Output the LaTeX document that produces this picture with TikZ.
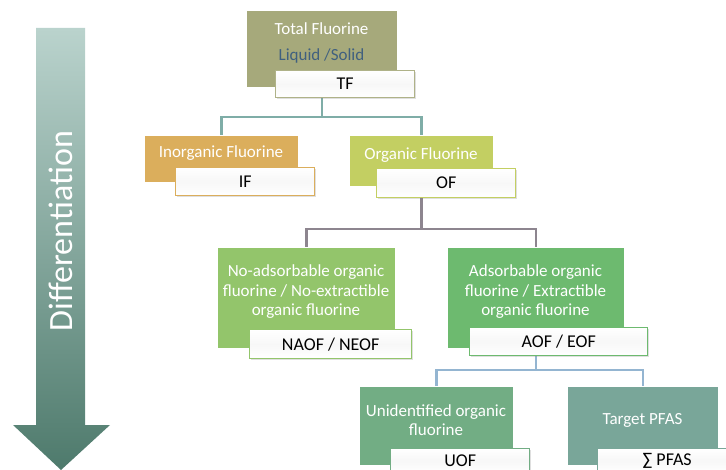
\documentclass[tikz,border=0pt]{standalone}
\usepackage{fontspec}
\setmainfont{Carlito}
\usetikzlibrary{shadows,backgrounds}
\definecolor{cTF}{HTML}{A6A97B}
\definecolor{cIF}{HTML}{DBAE5C}
\definecolor{cOF}{HTML}{C3CF62}
\definecolor{cNA}{HTML}{93C56B}
\definecolor{cAO}{HTML}{6DBA6F}
\definecolor{cUO}{HTML}{72AD84}
\definecolor{cPF}{HTML}{79A699}
\definecolor{cLiq}{HTML}{40607F}
\definecolor{cConA}{HTML}{7FADA7}
\definecolor{cConB}{HTML}{8D858F}
\definecolor{cConC}{HTML}{94B5D1}
\definecolor{cArrTop}{HTML}{BAD3CD}
\definecolor{cArrBot}{HTML}{4E7A6C}
\begin{document}
\begin{tikzpicture}[x=1pt,y=-1pt,
  mainbox/.style={draw=white, line width=0.8pt, inner sep=0pt, anchor=north west,
    drop shadow={opacity=0.25,shadow xshift=1pt,shadow yshift=-1pt}},
  lblbox/.style={line width=1.4pt, inner sep=0pt, anchor=north west,
    top color=white, bottom color=white, middle color=black!3!white,
    drop shadow={opacity=0.25,shadow xshift=1pt,shadow yshift=-1pt},
    font=\fontsize{18}{20}\selectfont, text=black},
  boxtext/.style={font=\fontsize{17}{19.5}\selectfont, text=white, align=center, inner sep=0pt},
  conn/.style={line width=2.4pt}]
\useasboundingbox (0,0) rectangle (726,470);

% differentiation arrow
\shade[top color=cArrTop, bottom color=cArrBot]
  (36,28) -- (85,28) -- (85,425) -- (110,425) -- (61,470) -- (13,425) -- (36,425) -- cycle;
\node[rotate=90, text=white, font=\fontsize{34}{40}\selectfont, inner sep=0pt] (diff) at (61,231) {Differentiation};

% level 0
\node[mainbox, fill=cTF, minimum width=151pt, minimum height=77pt] (tf) at (246,10) {};
\node[boxtext] (tft) at (321.5,29) {Total Fluorine};
\node[boxtext, text=cLiq] (tfs) at (321.5,56) {Liquid /Solid};
\node[lblbox, draw=cTF!90!white, minimum width=139pt, minimum height=27pt] (tfl) at (275,70) {TF};

% level 1
\node[mainbox, fill=cIF, minimum width=154pt, minimum height=47pt] (if) at (144,135) {};
\node[boxtext] (ift) at (221,153) {Inorganic Fluorine};
\node[lblbox, draw=cIF, minimum width=139pt, minimum height=28pt] (ifl) at (175,167) {IF};

\node[mainbox, fill=cOF, minimum width=144pt, minimum height=51pt] (of) at (349,135) {};
\node[boxtext] (oft) at (421,155) {Organic Fluorine};
\node[lblbox, draw=cOF, minimum width=139pt, minimum height=29pt] (ofl) at (376,168) {OF};

% level 2
\node[mainbox, fill=cNA, minimum width=178pt, minimum height=101pt] (na) at (217,247) {};
\node[boxtext] (nat) at (306,292) {No-adsorbable organic\\fluorine / No-extractible\\organic fluorine};
\node[lblbox, draw=cNA, minimum width=162pt, minimum height=29pt] (nal) at (249,329) {NAOF / NEOF};

\node[mainbox, fill=cAO, minimum width=177pt, minimum height=101pt] (ao) at (447,247) {};
\node[boxtext] (aot) at (535.5,292) {Adsorbable organic\\fluorine / Extractible\\organic fluorine};
\node[lblbox, draw=cAO, minimum width=178pt, minimum height=28pt] (aol) at (469,327) {AOF / EOF};

% level 3
\node[mainbox, fill=cUO, minimum width=154pt, minimum height=79pt] (uo) at (359,386) {};
\node[boxtext] (uot) at (436,420) {Unidentified organic\\fluorine};
\node[lblbox, draw=cUO, minimum width=139pt, minimum height=24pt] (uol) at (390,448) {UOF};

\node[mainbox, fill=cPF, minimum width=151pt, minimum height=79pt] (pf) at (567,386) {};
\node[boxtext] (pft) at (642.5,420) {Target PFAS};
\node[lblbox, draw=cPF, minimum width=139pt, minimum height=24pt] (pfl) at (597,448) {∑ PFAS};

% connectors
\begin{scope}[on background layer]
  \draw[conn, draw=cConA] (tf.south) -- ++(0,29) coordinate (tfj);
  \draw[conn, draw=cConA] (if.north) |- (tfj) -| (of.north);
  \draw[conn, draw=cConB] (of.south) -- ++(0,42) coordinate (ofj);
  \draw[conn, draw=cConB] (na.north) |- (ofj) -| (ao.north);
  \draw[conn, draw=cConC] (ao.south) -- ++(0,21) coordinate (aoj);
  \draw[conn, draw=cConC] (uo.north) |- (aoj) -| (pf.north);
\end{scope}
\end{tikzpicture}
\end{document}
